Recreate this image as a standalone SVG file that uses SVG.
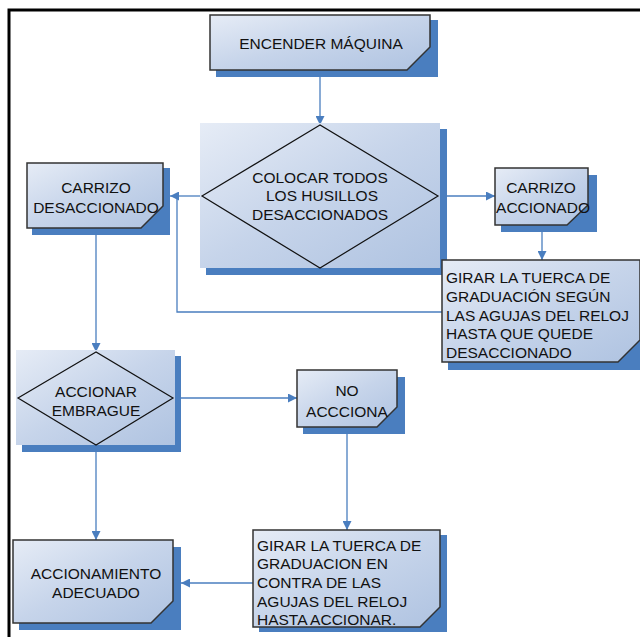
<svg xmlns="http://www.w3.org/2000/svg" width="640" height="637" viewBox="0 0 640 637">
  <defs>
    <linearGradient id="fill" x1="0" y1="0" x2="1" y2="1">
      <stop offset="0" stop-color="#e6ecf6"/>
      <stop offset="0.5" stop-color="#c6d4ea"/>
      <stop offset="1" stop-color="#afc3e1"/>
    </linearGradient>
    <marker id="arr" viewBox="0 0 10 10" refX="10" refY="5" markerWidth="9" markerHeight="9" markerUnits="userSpaceOnUse" orient="auto">
      <path d="M0,0 L10,5 L0,10 Z" fill="#4a7ebf"/>
    </marker>
    <style>
      .shadow { fill: #4a7ebf; }
      .box { fill: url(#fill); stroke: #333; stroke-width: 1.5; }
      .panel { fill: url(#fill); }
      .dia { fill: none; stroke: #111; stroke-width: 1.2; }
      .lbl { font-family: "Liberation Sans", Arial, sans-serif; font-size: 15.5px; fill: #111; text-anchor: middle; }
      .left { text-anchor: start; }
      .conn { fill: none; stroke: #4a7ebf; stroke-width: 1.3; }
    </style>
  </defs>

  <rect width="640" height="637" fill="#fff"/>
  <!-- outer frame -->
  <path d="M9,637 V10 H640" fill="none" stroke="#000" stroke-width="3"/>

  <!-- connectors -->
  <g id="connectors">
    <line class="conn" x1="320" y1="77" x2="320" y2="125" marker-end="url(#arr)"/>
    <line class="conn" x1="202" y1="196" x2="170" y2="196" marker-end="url(#arr)"/>
    <polyline class="conn" points="442,312 177,312 177,196"/>
    <line class="conn" x1="438" y1="196" x2="495" y2="196" marker-end="url(#arr)"/>
    <line class="conn" x1="542" y1="225" x2="542" y2="260" marker-end="url(#arr)"/>
    <line class="conn" x1="96" y1="235" x2="96" y2="352" marker-end="url(#arr)"/>
    <line class="conn" x1="175" y1="398" x2="297" y2="398" marker-end="url(#arr)"/>
    <line class="conn" x1="347" y1="434" x2="347" y2="530" marker-end="url(#arr)"/>
    <line class="conn" x1="253" y1="583" x2="181" y2="583" marker-end="url(#arr)"/>
    <line class="conn" x1="96" y1="452" x2="96" y2="540" marker-end="url(#arr)"/>
  </g>

  <!-- ENCENDER MÁQUINA -->
  <g id="encender">
    <polygon class="shadow" points="216,20 438,20 438,77 216,77"/>
    <polygon class="box" points="210,15 430,15 430,47 407,70 210,70"/>
    <text class="lbl" x="321" y="49">ENCENDER MÁQUINA</text>
  </g>

  <!-- COLOCAR TODOS LOS HUSILLOS DESACCIONADOS -->
  <g id="colocar">
    <rect class="shadow" x="206" y="129" width="241" height="146"/>
    <rect class="panel" x="200" y="123" width="240" height="145"/>
    <polygon class="dia" points="320,125 202,196 320,268 438,196"/>
    <text class="lbl" x="320" y="183">COLOCAR TODOS</text>
    <text class="lbl" x="322" y="201"> LOS HUSILLOS</text>
    <text class="lbl" x="320" y="220">DESACCIONADOS</text>
  </g>

  <!-- CARRIZO DESACCIONADO -->
  <g id="carrizo-desaccionado">
    <rect class="shadow" x="32" y="168" width="138" height="67"/>
    <polygon class="box" points="27,163 163,163 163,206 141,228 27,228"/>
    <text class="lbl" x="96" y="193">CARRIZO</text>
    <text class="lbl" x="96" y="213">DESACCIONADO</text>
  </g>

  <!-- CARRIZO ACCIONADO -->
  <g id="carrizo-accionado">
    <rect class="shadow" x="501" y="175" width="96" height="57"/>
    <polygon class="box" points="495,168 588,168 588,205 567,225 495,225"/>
    <text class="lbl" x="541" y="193">CARRIZO</text>
    <text class="lbl" x="543" y="213">ACCIONADO</text>
  </g>

  <!-- GIRAR ... SEGÚN LAS AGUJAS DEL RELOJ -->
  <g id="girar-segun">
    <rect class="shadow" x="448" y="266" width="192" height="104"/>
    <polygon class="box" points="442,260 640,260 640,340 618,362 442,362"/>
    <text class="lbl left" x="446" y="283">GIRAR LA TUERCA DE</text>
    <text class="lbl left" x="446" y="302">GRADUACIÓN SEGÚN</text>
    <text class="lbl left" x="446" y="321">LAS AGUJAS DEL RELOJ</text>
    <text class="lbl left" x="446" y="339">HASTA QUE QUEDE</text>
    <text class="lbl left" x="446" y="358">DESACCIONADO</text>
  </g>

  <!-- ACCIONAR EMBRAGUE -->
  <g id="accionar-embrague">
    <rect class="shadow" x="22" y="356" width="159" height="96"/>
    <rect class="panel" x="16" y="350" width="159" height="95"/>
    <polygon class="dia" points="96,352 18,398 96,445 173,398"/>
    <text class="lbl" x="96" y="397">ACCIONAR</text>
    <text class="lbl" x="96" y="416">EMBRAGUE</text>
  </g>

  <!-- NO ACCCIONA -->
  <g id="no-acciona">
    <rect class="shadow" x="303" y="377" width="102" height="57"/>
    <polygon class="box" points="297,370 397,370 397,407 377,427 297,427"/>
    <text class="lbl" x="347" y="396">NO</text>
    <text class="lbl" x="347" y="417">ACCCIONA</text>
  </g>

  <!-- GIRAR ... EN CONTRA DE LAS AGUJAS DEL RELOJ -->
  <g id="girar-contra">
    <rect class="shadow" x="259" y="535" width="188" height="97"/>
    <polygon class="box" points="253,530 440,530 440,607 420,627 253,627"/>
    <text class="lbl left" x="257" y="551">GIRAR LA TUERCA DE</text>
    <text class="lbl left" x="257" y="569">GRADUACION EN</text>
    <text class="lbl left" x="257" y="588">CONTRA DE LAS</text>
    <text class="lbl left" x="257" y="607">AGUJAS DEL RELOJ</text>
    <text class="lbl left" x="257" y="625">HASTA ACCIONAR.</text>
  </g>

  <!-- ACCIONAMIENTO ADECUADO -->
  <g id="accionamiento">
    <rect class="shadow" x="19" y="547" width="162" height="83"/>
    <polygon class="box" points="13,540 173,540 173,601 151,623 13,623"/>
    <text class="lbl" x="96" y="579">ACCIONAMIENTO</text>
    <text class="lbl" x="96" y="598">ADECUADO</text>
  </g>
</svg>
